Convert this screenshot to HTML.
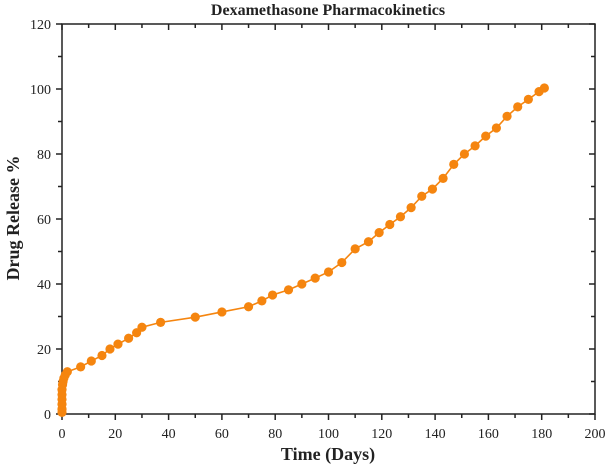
<!DOCTYPE html>
<html><head><meta charset="utf-8"><style>
html,body{margin:0;padding:0;background:#fff;width:607px;height:466px;overflow:hidden}
text{font-family:"Liberation Serif",serif;fill:#222}
</style></head><body>
<svg id="s" width="607" height="466" xmlns="http://www.w3.org/2000/svg">
<text x="328" y="15" font-size="16" font-weight="bold" text-anchor="middle">Dexamethasone Pharmacokinetics</text>
<g stroke="#222" stroke-width="1.5" fill="none" id="ax">
<rect x="62" y="24" width="533" height="390"/>
</g>
<text x="328" y="460" font-size="18" font-weight="bold" text-anchor="middle">Time (Days)</text>
<text transform="translate(19,218) rotate(-90)" font-size="18" font-weight="bold" text-anchor="middle">Drug Release %</text>
<g id="lab" font-size="14"></g>
<polyline id="ln" fill="none" stroke="#f5850f" stroke-width="1.6"/>
<g id="pts" fill="#f5850f"></g>
</svg>
<script>
var ns="http://www.w3.org/2000/svg";
function X(d){return 62+d*2.665}function Y(v){return 414-v*3.25}
var ax=document.getElementById('ax'),lab=document.getElementById('lab');
function el(p,tag,a,t){var e=document.createElementNS(ns,tag);for(var k in a)e.setAttribute(k,a[k]);if(t!=null)e.textContent=t;p.appendChild(e);return e}
for(var d=0;d<=200;d+=10){var x=X(d),L=d%20==0?6:4;
el(ax,'line',{x1:x,y1:414,x2:x,y2:414+L});el(ax,'line',{x1:x,y1:24,x2:x,y2:24+L});
if(d%20==0)el(lab,'text',{x:x,y:438,'text-anchor':'middle'},d);}
for(var v=0;v<=120;v+=10){var y=Y(v),L=v%20==0?6:4;
el(ax,'line',{x1:62,y1:y,x2:62-L,y2:y});el(ax,'line',{x1:595,y1:y,x2:595-L,y2:y});
if(v%20==0)el(lab,'text',{x:51,y:y+5,'text-anchor':'end'},v);}
var data=[[0,0.5],[0,1.5],[0,3],[0,4.5],[0,6],[0,7.5],[0.2,9],[0.4,10],[0.7,11],[1.2,12],[2,13],[7,14.5],[11,16.3],[15,18],[18,20],[21,21.5],[25,23.3],[28,25],[30,26.7],[37,28.2],[50,29.8],[60,31.4],[70,33],[75,34.8],[79,36.6],[85,38.2],[90,40],[95,41.8],[100,43.7],[105,46.6],[110,50.8],[115,53],[119,55.8],[123,58.3],[127,60.7],[131,63.5],[135,67],[139,69.2],[143,72.5],[147,76.8],[151,80],[155,82.5],[159,85.5],[163,88],[167,91.6],[171,94.5],[175,96.8],[179,99.2],[181,100.3]];
var pts=document.getElementById('pts'),s=[];
data.forEach(function(p){var x=X(p[0]),y=Y(p[1]);s.push(x+','+y);el(pts,'circle',{cx:x,cy:y,r:4.6});});
document.getElementById('ln').setAttribute('points',s.join(' '));
</script>
</body></html>
